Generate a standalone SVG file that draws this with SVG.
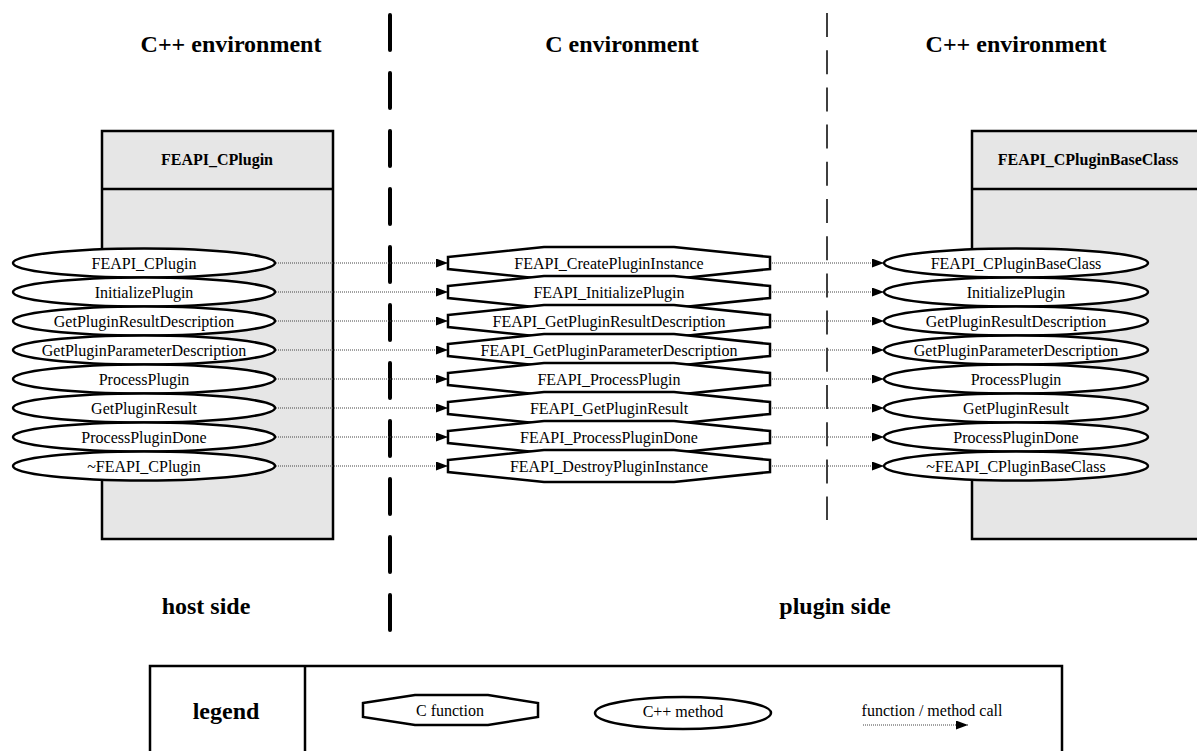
<svg xmlns="http://www.w3.org/2000/svg" width="1197" height="751" viewBox="0 0 1197 751">
<style>
.t{font-family:"Liberation Serif","Times New Roman",serif;font-size:16px;fill:#000;text-anchor:middle}
.h{font-family:"Liberation Serif","Times New Roman",serif;font-size:24px;font-weight:bold;fill:#000;text-anchor:middle}
.hb{font-family:"Liberation Serif","Times New Roman",serif;font-size:16px;font-weight:bold;fill:#000;text-anchor:middle}
.box{fill:#e6e6e6;stroke:#000;stroke-width:2.5}
.el{fill:#fff;stroke:#000;stroke-width:2.5}
.oc{fill:#fff;stroke:#000;stroke-width:2.5;stroke-linejoin:miter}
.call{stroke:#444;stroke-width:1;stroke-dasharray:1 1;fill:none}
</style>
<defs>
<marker id="ah" markerWidth="12" markerHeight="9" refX="12" refY="4.5" orient="auto" markerUnits="userSpaceOnUse">
<path d="M0,0 L12,4.5 L0,9 Z" fill="#000"/>
</marker>
<symbol id="oct" overflow="visible">
<path class="oc" d="M448,257 L544,247 L674,247 L770,257 L770,269 L674,279 L544,279 L448,269 Z"/>
</symbol>
</defs>
<rect width="1197" height="751" fill="#fff"/>

<g id="titles">
<text class="h" x="231" y="52">C++ environment</text>
<text class="h" x="622" y="52">C environment</text>
<text class="h" x="1016" y="52">C++ environment</text>
<text class="h" x="206" y="614">host side</text>
<text class="h" x="835" y="614">plugin side</text>
</g>

<g id="separators">
<line x1="390" y1="15" x2="390" y2="632" stroke="#000" stroke-width="4" stroke-linecap="round" stroke-dasharray="35 23"/>
<line x1="827" y1="13" x2="827" y2="520" stroke="#000" stroke-width="1.5" stroke-dasharray="24 13.2"/>
</g>

<g id="host-class">
<rect class="box" x="102" y="131" width="231" height="408"/>
<line x1="102" y1="189" x2="333" y2="189" stroke="#000" stroke-width="2.5"/>
<text class="hb" x="217" y="165">FEAPI_CPlugin</text>
</g>

<g id="plugin-class">
<rect class="box" x="972" y="131" width="235" height="408"/>
<line x1="972" y1="189" x2="1207" y2="189" stroke="#000" stroke-width="2.5"/>
<text class="hb" x="1088" y="165">FEAPI_CPluginBaseClass</text>
</g>

<g id="connectors">
<line class="call" x1="276" y1="263" x2="448" y2="263" marker-end="url(#ah)"/>
<line class="call" x1="276" y1="292" x2="448" y2="292" marker-end="url(#ah)"/>
<line class="call" x1="276" y1="321" x2="448" y2="321" marker-end="url(#ah)"/>
<line class="call" x1="276" y1="350" x2="448" y2="350" marker-end="url(#ah)"/>
<line class="call" x1="276" y1="379" x2="448" y2="379" marker-end="url(#ah)"/>
<line class="call" x1="276" y1="408" x2="448" y2="408" marker-end="url(#ah)"/>
<line class="call" x1="276" y1="437" x2="448" y2="437" marker-end="url(#ah)"/>
<line class="call" x1="276" y1="466" x2="448" y2="466" marker-end="url(#ah)"/>
<line class="call" x1="770" y1="263" x2="884" y2="263" marker-end="url(#ah)"/>
<line class="call" x1="770" y1="292" x2="884" y2="292" marker-end="url(#ah)"/>
<line class="call" x1="770" y1="321" x2="884" y2="321" marker-end="url(#ah)"/>
<line class="call" x1="770" y1="350" x2="884" y2="350" marker-end="url(#ah)"/>
<line class="call" x1="770" y1="379" x2="884" y2="379" marker-end="url(#ah)"/>
<line class="call" x1="770" y1="408" x2="884" y2="408" marker-end="url(#ah)"/>
<line class="call" x1="770" y1="437" x2="884" y2="437" marker-end="url(#ah)"/>
<line class="call" x1="770" y1="466" x2="884" y2="466" marker-end="url(#ah)"/>
</g>

<g id="host-methods">
<g id="h1"><ellipse class="el" cx="144" cy="263" rx="131" ry="14.5"/><text class="t" x="144" y="268.5">FEAPI_CPlugin</text></g>
<g id="h2"><ellipse class="el" cx="144" cy="292" rx="131" ry="14.5"/><text class="t" x="144" y="297.5">InitializePlugin</text></g>
<g id="h3"><ellipse class="el" cx="144" cy="321" rx="131" ry="14.5"/><text class="t" x="144" y="326.5">GetPluginResultDescription</text></g>
<g id="h4"><ellipse class="el" cx="144" cy="350" rx="131" ry="14.5"/><text class="t" x="144" y="355.5">GetPluginParameterDescription</text></g>
<g id="h5"><ellipse class="el" cx="144" cy="379" rx="131" ry="14.5"/><text class="t" x="144" y="384.5">ProcessPlugin</text></g>
<g id="h6"><ellipse class="el" cx="144" cy="408" rx="131" ry="14.5"/><text class="t" x="144" y="413.5">GetPluginResult</text></g>
<g id="h7"><ellipse class="el" cx="144" cy="437" rx="131" ry="14.5"/><text class="t" x="144" y="442.5">ProcessPluginDone</text></g>
<g id="h8"><ellipse class="el" cx="144" cy="466" rx="131" ry="14.5"/><text class="t" x="144" y="471.5">~FEAPI_CPlugin</text></g>
</g>

<g id="c-functions">
<g id="c1"><use href="#oct" y="0"/><text class="t" x="609" y="268.5">FEAPI_CreatePluginInstance</text></g>
<g id="c2"><use href="#oct" y="29"/><text class="t" x="609" y="297.5">FEAPI_InitializePlugin</text></g>
<g id="c3"><use href="#oct" y="58"/><text class="t" x="609" y="326.5">FEAPI_GetPluginResultDescription</text></g>
<g id="c4"><use href="#oct" y="87"/><text class="t" x="609" y="355.5">FEAPI_GetPluginParameterDescription</text></g>
<g id="c5"><use href="#oct" y="116"/><text class="t" x="609" y="384.5">FEAPI_ProcessPlugin</text></g>
<g id="c6"><use href="#oct" y="145"/><text class="t" x="609" y="413.5">FEAPI_GetPluginResult</text></g>
<g id="c7"><use href="#oct" y="174"/><text class="t" x="609" y="442.5">FEAPI_ProcessPluginDone</text></g>
<g id="c8"><use href="#oct" y="203"/><text class="t" x="609" y="471.5">FEAPI_DestroyPluginInstance</text></g>
</g>

<g id="plugin-methods">
<g id="p1"><ellipse class="el" cx="1016" cy="263" rx="132" ry="14.5"/><text class="t" x="1016" y="268.5">FEAPI_CPluginBaseClass</text></g>
<g id="p2"><ellipse class="el" cx="1016" cy="292" rx="132" ry="14.5"/><text class="t" x="1016" y="297.5">InitializePlugin</text></g>
<g id="p3"><ellipse class="el" cx="1016" cy="321" rx="132" ry="14.5"/><text class="t" x="1016" y="326.5">GetPluginResultDescription</text></g>
<g id="p4"><ellipse class="el" cx="1016" cy="350" rx="132" ry="14.5"/><text class="t" x="1016" y="355.5">GetPluginParameterDescription</text></g>
<g id="p5"><ellipse class="el" cx="1016" cy="379" rx="132" ry="14.5"/><text class="t" x="1016" y="384.5">ProcessPlugin</text></g>
<g id="p6"><ellipse class="el" cx="1016" cy="408" rx="132" ry="14.5"/><text class="t" x="1016" y="413.5">GetPluginResult</text></g>
<g id="p7"><ellipse class="el" cx="1016" cy="437" rx="132" ry="14.5"/><text class="t" x="1016" y="442.5">ProcessPluginDone</text></g>
<g id="p8"><ellipse class="el" cx="1016" cy="466" rx="132" ry="14.5"/><text class="t" x="1016" y="471.5">~FEAPI_CPluginBaseClass</text></g>
</g>

<g id="legend">
<rect x="150" y="666" width="912" height="100" fill="#fff" stroke="#000" stroke-width="2.5"/>
<line x1="305" y1="666" x2="305" y2="766" stroke="#000" stroke-width="2.5"/>
<text class="h" x="226" y="719">legend</text>
<path class="oc" d="M363,703 L415,695 L488,695 L538,703 L538,717 L488,725 L415,725 L363,717 Z"/>
<text class="t" x="450" y="716" font-size="15">C function</text>
<ellipse class="el" cx="683" cy="713" rx="88" ry="16"/>
<text class="t" x="683" y="717" font-size="15">C++ method</text>
<text class="t" x="932" y="716" font-size="15">function / method call</text>
<line class="call" x1="863" y1="725" x2="968" y2="725" marker-end="url(#ah)"/>
</g>
</svg>
